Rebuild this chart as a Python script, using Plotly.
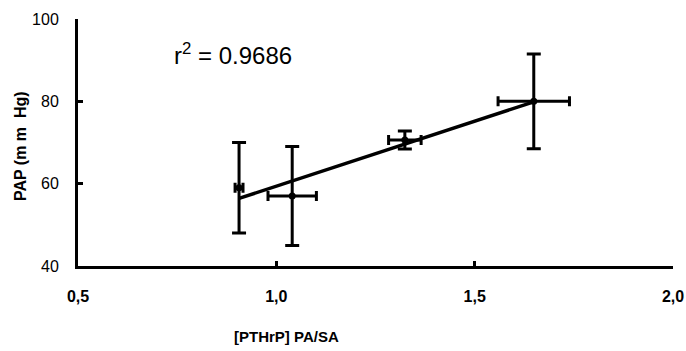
import numpy as np
import plotly.graph_objects as go

# Data
x_vals = [0.906, 1.040, 1.324, 1.649]
y_vals = [59.0, 57.0, 70.6, 80.0]
x_err = [0.010, 0.061, 0.041, 0.090]
y_err = [11.0, 12.0, 2.2, 11.5]
x_ticks = [0.5, 1.0, 1.5, 2.0]
x_tick_labels = ["0,5", "1,0", "1,5", "2,0"]
y_ticks = [40, 60, 80, 100]
r2_text = "r<sup>2</sup> = 0.9686"

slope, intercept = np.polyfit(x_vals, y_vals, 1)
fit_x = [min(x_vals), max(x_vals)]
fit_y = [slope * v + intercept for v in fit_x]

W, H = 686, 351
L, R, T, B = 78, 13, 19, 85
pw, ph = W - L - R, H - T - B
font = "Liberation Sans Narrow, Arial Narrow, Liberation Sans, Arial, sans-serif"


def px_to_paper(px, py):
    return (px - L) / pw, (H - B - py) / ph


fig = go.Figure()
fig.add_trace(go.Scatter(
    x=fit_x, y=fit_y, mode="lines",
    line=dict(color="black", width=3.5), hoverinfo="skip", showlegend=False))
fig.add_trace(go.Scatter(
    x=x_vals, y=y_vals, mode="markers",
    marker=dict(color="black", size=7, symbol="circle"),
    error_x=dict(type="data", array=x_err, visible=True, color="black", thickness=3, width=5),
    error_y=dict(type="data", array=y_err, visible=True, color="black", thickness=3, width=7),
    showlegend=False))

fig.add_annotation(x=0.737, y=91.5, xref="x", yref="y", text=r2_text,
                   showarrow=False, xanchor="left", yanchor="middle",
                   font=dict(family="Liberation Sans, Arial, sans-serif", size=24, color="black"))

ax, ay = px_to_paper(286, 336)
fig.add_annotation(x=ax, y=ay, xref="paper", yref="paper", text="<b>[PTHrP] PA/SA</b>",
                   showarrow=False, xanchor="center", yanchor="middle",
                   font=dict(family=font, size=15, color="black"))
tx, ty = px_to_paper(20, 146)
fig.add_annotation(x=tx, y=ty, xref="paper", yref="paper", text="<b>PAP (m m  Hg)</b>",
                   showarrow=False, xanchor="center", yanchor="middle", textangle=-90,
                   font=dict(family="Liberation Sans, Arial, sans-serif", size=16, color="black"))

fig.update_layout(
    width=W, height=H,
    margin=dict(l=L, r=R, t=T, b=B, autoexpand=False),
    plot_bgcolor="white", paper_bgcolor="white",
    xaxis=dict(range=[0.5, 2.0], tickvals=x_ticks, ticktext=x_tick_labels, automargin=False,
               showgrid=False, zeroline=False, showline=True, linecolor="black", linewidth=3,
               ticks="inside", ticklen=5, tickwidth=3, tickcolor="black",
               tickfont=dict(family=font, size=16, color="black", weight="bold"),
               ticklabelstandoff=14),
    yaxis=dict(range=[40, 100], tickvals=y_ticks, automargin=False,
               showgrid=False, zeroline=False, showline=True, linecolor="black", linewidth=3,
               ticks="inside", ticklen=5, tickwidth=3, tickcolor="black",
               tickfont=dict(family=font, size=16, color="black"),
               ticklabelstandoff=13),
)
fig.write_html("out.html", config={"displayModeBar": False},
               post_script="document.body.style.margin='0';document.body.style.overflow='hidden';")
